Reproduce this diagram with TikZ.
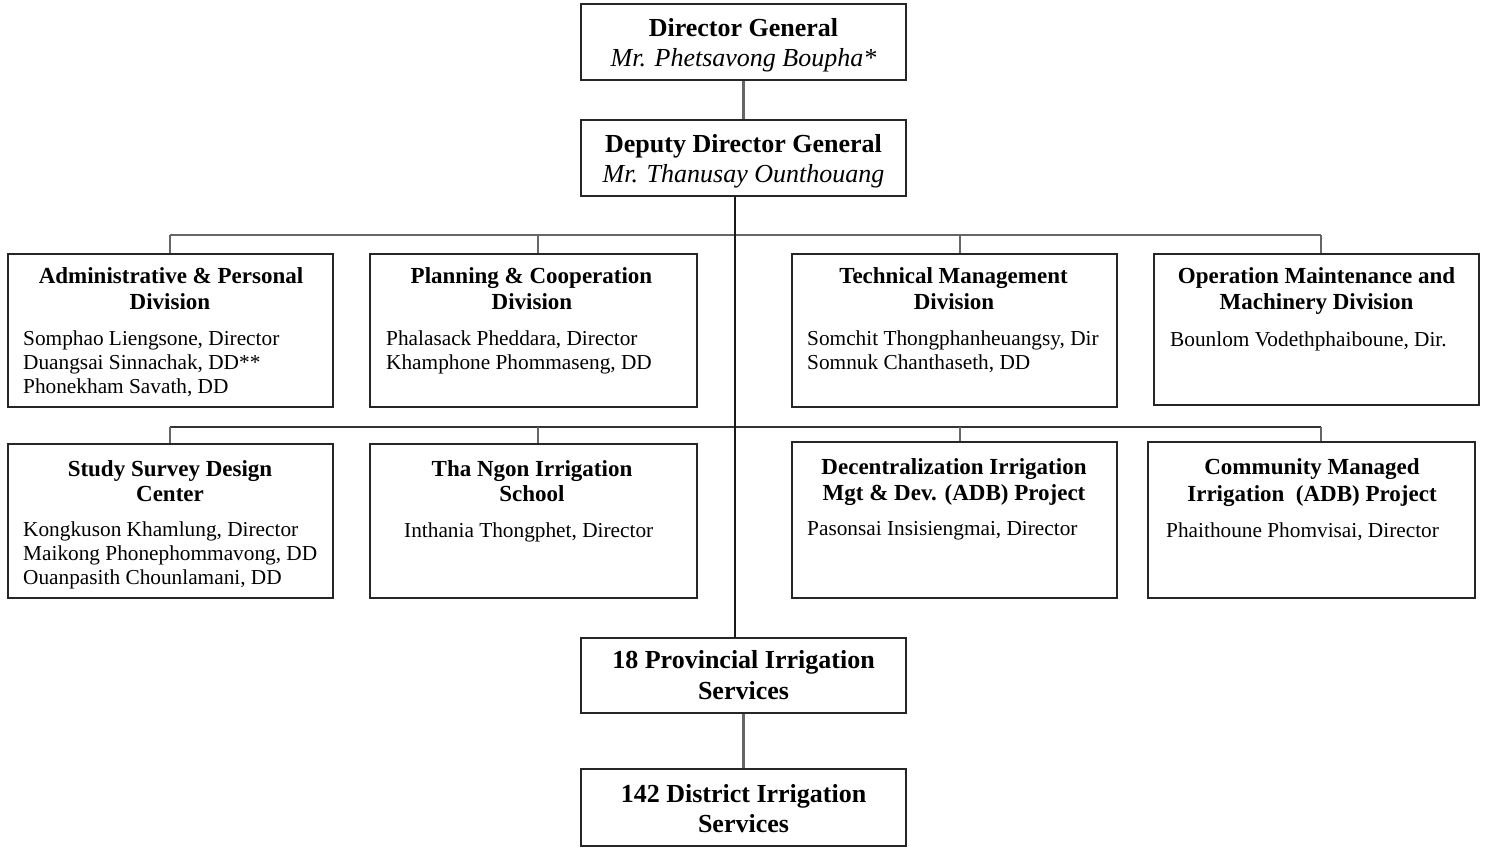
\documentclass[tikz,border=0pt]{standalone}
\usepackage{fontspec}
\setmainfont{Liberation Serif}
\begin{document}
\begin{tikzpicture}[x=1pt,y=-1pt,
  box/.style n args={2}{draw=black!85, line width=1.8pt, fill=white, inner sep=0pt,
    minimum width=#1pt, minimum height=#2pt},
  hd/.style={font=\fontsize{26}{30}\selectfont\bfseries, inner sep=0pt, anchor=base},
  nm/.style={font=\fontsize{26}{30}\selectfont\itshape, inner sep=0pt, anchor=base},
  ttl/.style={font=\fontsize{23}{26}\selectfont\bfseries, inner sep=0pt, anchor=base},
  ppl/.style={font=\fontsize{21.3}{24}\selectfont, inner sep=0pt, anchor=base west},
  conn/.style={draw=black!60, line width=2.4pt},
  conndark/.style={draw=black!80, line width=2pt},
  trunk/.style={draw=black!90, line width=1.8pt}]

\fill[white] (0,0) rectangle (1485,849);
\useasboundingbox (0,0) rectangle (1485,849);

% ---- boxes ----
\node[box={325}{76}]  (dg)     at (743.5,42)    {};
\node[box={325}{76}]  (ddg)    at (743.5,158)   {};
\node[box={325}{153}] (adm)    at (170.5,330.5) {};
\node[box={327}{153}] (plan)   at (533.5,330.5) {};
\node[box={325}{153}] (tech)   at (954.5,330.5) {};
\node[box={325}{151}] (oper)   at (1316.5,329.5){};
\node[box={325}{154}] (study)  at (170.5,521)   {};
\node[box={327}{154}] (school) at (533.5,521)   {};
\node[box={325}{156}] (dec)    at (954.5,520)   {};
\node[box={327}{156}] (cmi)    at (1311.5,520)  {};
\node[box={325}{75}]  (prov)   at (743.5,675.5) {};
\node[box={325}{77}]  (dist)   at (743.5,807.5) {};

% ---- connectors ----
\coordinate (tr) at (735,0);
\draw[conn] (dg.south) -- (ddg.north);
\draw[conn] (prov.south) -- (dist.north);

\coordinate (b1a) at (170,235);
\coordinate (b1b) at (538,235);
\coordinate (b1c) at (960,235);
\coordinate (b1d) at (1321,235);
\draw[conn] (b1a) -- (b1d);
\draw[conn] (b1a) -- (b1a |- adm.north);
\draw[conn] (b1b) -- (b1b |- plan.north);
\draw[conn] (b1c) -- (b1c |- tech.north);
\draw[conn] (b1d) -- (b1d |- oper.north);

\coordinate (b2a) at (170,427);
\coordinate (b2b) at (538,427);
\coordinate (b2c) at (960,427);
\coordinate (b2d) at (1321,427);
\draw[conndark] (b2a) -- (b2d);
\draw[conn] (b2a) -- (b2a |- study.north);
\draw[conn] (b2b) -- (b2b |- school.north);
\draw[conn] (b2c) -- (b2c |- dec.north);
\draw[conn] (b2d) -- (b2d |- cmi.north);

% main vertical line from the deputy down to the provinces
\draw[trunk] (ddg.south -| tr) -- (prov.north -| tr);

% ---- top boxes ----
\node[hd] (dg1)  at (743.5,36)  {Director General};
\node[nm] (dg2)  at (743.5,66)  {Mr. Phetsavong Boupha*};
\node[hd] (ddg1) at (743.5,152) {Deputy Director General};
\node[nm] (ddg2) at (743.5,182) {Mr. Thanusay Ounthouang};

% ---- divisions, first row ----
\node[ttl] (adm1) at (171,283) {Administrative \& Personal};
\node[ttl] (adm2) at (170,309) {Division};
\node[ppl] (adm3) at (23,345) {Somphao Liengsone, Director};
\node[ppl] (adm4) at (23,369) {Duangsai Sinnachak, DD**};
\node[ppl] (adm5) at (23,393) {Phonekham Savath, DD};

\node[ttl] (plan1) at (531.5,283) {Planning \& Cooperation};
\node[ttl] (plan2) at (532,309)   {Division};
\node[ppl] (plan3) at (386,345)   {Phalasack Pheddara, Director};
\node[ppl] (plan4) at (386,369)   {Khamphone Phommaseng, DD};

\node[ttl] (tech1) at (953.5,283) {Technical Management};
\node[ttl] (tech2) at (954,309)   {Division};
\node[ppl] (tech3) at (807,345)   {Somchit Thongphanheuangsy, Dir};
\node[ppl] (tech4) at (807,369)   {Somnuk Chanthaseth, DD};

\node[ttl] (oper1) at (1316.5,283) {Operation Maintenance and};
\node[ttl] (oper2) at (1316.5,309) {Machinery Division};
\node[ppl] (oper3) at (1170,346)   {Bounlom Vodethphaiboune, Dir.};

% ---- divisions, second row ----
\node[ttl] (study1) at (170,476) {Study Survey Design};
\node[ttl] (study2) at (170,501) {Center};
\node[ppl] (study3) at (23,536)  {Kongkuson Khamlung, Director};
\node[ppl] (study4) at (23,560)  {Maikong Phonephommavong, DD};
\node[ppl] (study5) at (23,584)  {Ouanpasith Chounlamani, DD};

\node[ttl] (school1) at (532,476) {Tha Ngon Irrigation};
\node[ttl] (school2) at (532,501) {School};
\node[ppl] (school3) at (404,537) {Inthania Thongphet, Director};

\node[ttl] (dec1) at (954,474) {Decentralization Irrigation};
\node[ttl] (dec2) at (954,500) {Mgt \& Dev. (ADB) Project};
\node[ppl] (dec3) at (807,535)  {Pasonsai Insisiengmai, Director};

\node[ttl] (cmi1) at (1312,474) {Community Managed};
\node[ttl] (cmi2) at (1312,501) {Irrigation\ \ (ADB) Project};
\node[ppl] (cmi3) at (1166,537) {Phaithoune Phomvisai, Director};

% ---- provincial and district level ----
\node[hd] (prov1) at (743.5,668) {18 Provincial Irrigation};
\node[hd] (prov2) at (743.5,699) {Services};
\node[hd] (dist1) at (743.5,802) {142 District Irrigation};
\node[hd] (dist2) at (743.5,832) {Services};
\end{tikzpicture}
\end{document}
